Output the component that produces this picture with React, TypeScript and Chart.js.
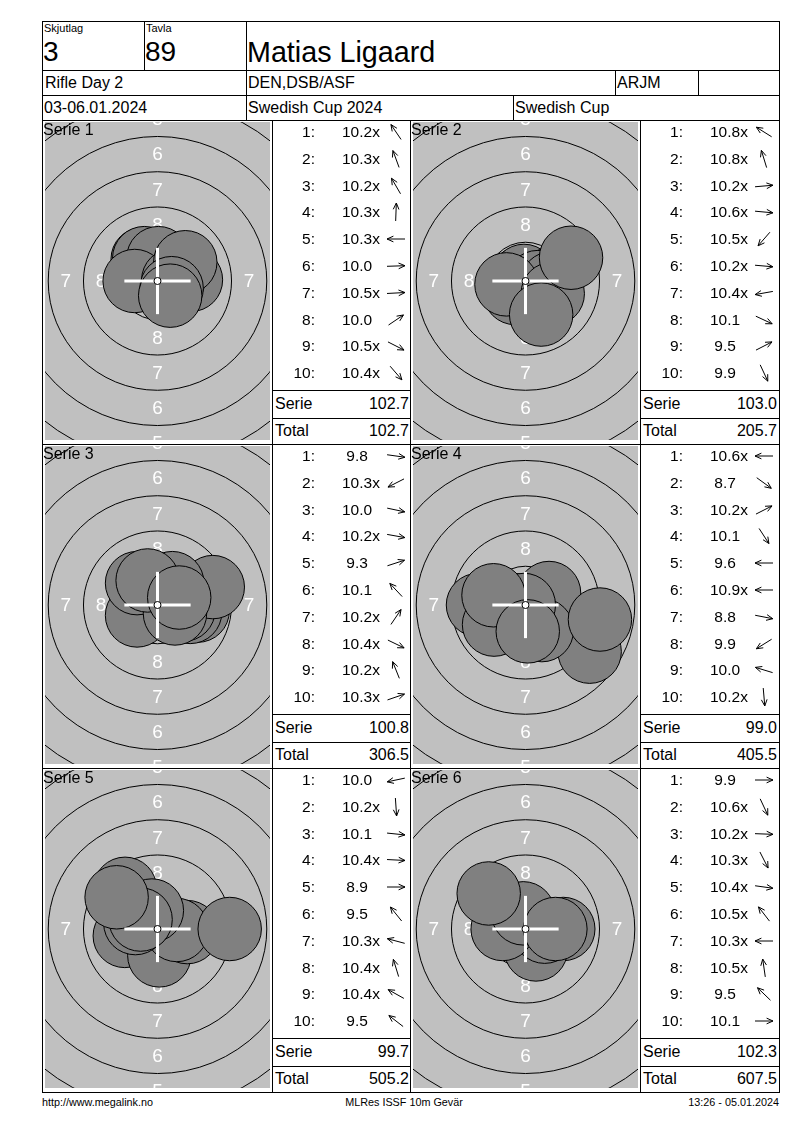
import React, { useEffect, useRef } from "react";
import { Chart, registerables } from "chart.js";

Chart.register(...registerables);

// ---------------- data ----------------
const SKJUTLAG_LABEL = "Skjutlag";
const TAVLA_LABEL = "Tavla";
const SKJUTLAG = "3";
const TAVLA = "89";
const SHOOTER = "Matias Ligaard";
const EVENT = "Rifle Day 2";
const CLUB = "DEN,DSB/ASF";
const CLASS_NAME = "ARJM";
const DATES = "03-06.01.2024";
const COMPETITION = "Swedish Cup 2024";
const ORGANIZER = "Swedish Cup";
const FOOTER_LEFT = "http://www.megalink.no";
const FOOTER_MID = "MLRes ISSF 10m Gevär";
const FOOTER_RIGHT = "13:26 - 05.01.2024";

const SERIE_NAMES = ["Serie 1", "Serie 2", "Serie 3", "Serie 4", "Serie 5", "Serie 6"];
const SERIE_SUMS = ["102.7", "103.0", "100.8", "99.0", "99.7", "102.3"];
const RUNNING_TOTALS = ["102.7", "205.7", "306.5", "405.5", "505.2", "607.5"];

// shot scores and impact positions (mm from target centre, y up)
const S1_SCORES = ["10.2x", "10.3x", "10.2x", "10.3x", "10.3x", "10.0", "10.5x", "10.0", "10.5x", "10.4x"];
const S1_X = [-1.05, -0.56, -0.94, 0.06, -1.62, 2.37, 1.12, 1.97, 1.0, 0.9];
const S1_Y = [1.55, 1.53, 1.62, 1.62, 0.0, 0.08, 0.06, 1.33, -0.51, -1.04];

const S2_SCORES = ["10.8x", "10.8x", "10.2x", "10.6x", "10.5x", "10.2x", "10.4x", "10.1", "9.5", "9.9"];
const S2_X = [-0.32, -0.11, 1.87, 0.87, -0.74, 1.87, -1.35, 1.93, 3.23, 1.11];
const S2_Y = [0.2, 0.36, 0.16, -0.08, -0.85, -0.16, -0.24, -0.9, 1.65, -2.38];

const S3_SCORES = ["9.8", "10.3x", "10.0", "10.2x", "9.3", "10.1", "10.2x", "10.4x", "10.2x", "10.3x"];
const S3_X = [2.85, -1.45, 2.32, 1.85, 3.92, -1.45, 1.05, 1.24, -0.7, 1.54];
const S3_Y = [-0.4, -0.74, -0.49, -0.33, 1.27, 1.55, 1.55, -0.6, 1.74, 0.53];

const S4_SCORES = ["10.6x", "8.7", "10.2x", "10.1", "9.6", "10.9x", "8.8", "9.9", "10.0", "10.2x"];
const S4_X = [-0.87, 4.55, 1.67, 1.16, -3.37, -0.12, 5.28, -2.23, -2.27, 0.16];
const S4_Y = [0.0, -3.31, 0.85, -1.78, 0.0, 0.0, -1.03, -1.39, 0.69, -1.87];

const S5_SCORES = ["10.0", "10.2x", "10.1", "10.4x", "8.9", "9.5", "10.3x", "10.4x", "10.4x", "9.5"];
const S5_X = [-2.32, 0.13, 2.11, 1.37, 5.12, -2.3, -1.57, -0.4, -1.2, -2.9];
const S5_Y = [-0.49, -1.87, -0.22, -0.07, 0.0, 2.85, 0.42, 1.31, 0.67, 2.25];

const S6_SCORES = ["9.9", "10.6x", "10.2x", "10.3x", "10.4x", "10.5x", "10.3x", "10.5x", "9.5", "10.1"];
const S6_X = [2.68, 0.37, 1.87, 0.74, 1.36, -0.69, -1.62, -0.16, -2.61, 2.12];
const S6_Y = [0.0, -0.79, -0.07, -1.45, -0.19, 0.89, 0.0, 1.11, 2.52, 0.0];

// ISSF 10m air rifle target geometry (mm)
const RING_RADII_MM = [22.75, 20.25, 17.75, 15.25, 12.75, 10.25, 7.75, 5.25, 2.75]; // rings 1..9
const RING_NUMBERS = ["1", "2", "3", "4", "5", "6", "7", "8"];
const TEN_DOT_MM = 0.25;
const PELLET_R_MM = 2.25;
const CROSS_MM = 2.35;

const SERIES = [
  { scores: S1_SCORES, xs: S1_X, ys: S1_Y },
  { scores: S2_SCORES, xs: S2_X, ys: S2_Y },
  { scores: S3_SCORES, xs: S3_X, ys: S3_Y },
  { scores: S4_SCORES, xs: S4_X, ys: S4_Y },
  { scores: S5_SCORES, xs: S5_X, ys: S5_Y },
  { scores: S6_SCORES, xs: S6_X, ys: S6_Y },
];

// ---------------- layout constants ----------------
const PX_PER_MM = 14.1;
const TW = 225;
const TH = 318;
const FONT = '"Liberation Sans", Arial, sans-serif';

function pxOf(chart: any, mm: number) {
  const s = chart.scales.x;
  return Math.abs(s.getPixelForValue(mm) - s.getPixelForValue(0));
}

const targetPlugin = {
  id: "targetFace",
  beforeDraw(chart: any) {
    const { ctx, chartArea } = chart;
    ctx.save();
    ctx.fillStyle = "#c0c0c0";
    ctx.fillRect(chartArea.left, chartArea.top, chartArea.right - chartArea.left, chartArea.bottom - chartArea.top);
    ctx.restore();
  },
  beforeDatasetsDraw(chart: any) {
    const { ctx, chartArea } = chart;
    const sx = chart.scales.x;
    const sy = chart.scales.y;
    ctx.save();
    ctx.beginPath();
    ctx.rect(chartArea.left, chartArea.top, chartArea.right - chartArea.left, chartArea.bottom - chartArea.top);
    ctx.clip();
    ctx.fillStyle = "#ffffff";
    ctx.font = "19px " + FONT;
    ctx.textAlign = "center";
    ctx.textBaseline = "middle";
    RING_NUMBERS.forEach((label, i) => {
      const r = (RING_RADII_MM[i] + RING_RADII_MM[i + 1]) / 2;
      const pts = [
        [0, r],
        [0, -r],
        [r, 0],
        [-r, 0],
      ];
      pts.forEach(([x, y]) => {
        ctx.fillText(label, sx.getPixelForValue(x), sy.getPixelForValue(y) + 1);
      });
    });
    ctx.restore();
  },
};

function Target({ left, top, xs, ys }: { left: number; top: number; xs: number[]; ys: number[] }) {
  const ref = useRef<HTMLCanvasElement>(null);
  useEffect(() => {
    const canvas = ref.current;
    if (!canvas) return;
    const xr = TW / 2 / PX_PER_MM;
    const yr = TH / 2 / PX_PER_MM;
    const chart = new Chart(canvas, {
      type: "scatter",
      data: {
        datasets: [
          {
            type: "scatter",
            label: "ten",
            data: [{ x: 0, y: 0 }],
            pointRadius: (c: any) => pxOf(c.chart, TEN_DOT_MM),
            pointBackgroundColor: "#ffffff",
            pointBorderColor: "#000000",
            pointBorderWidth: 1,
            order: 1,
          } as any,
          {
            type: "line",
            label: "crossH",
            data: [
              { x: -CROSS_MM, y: 0 },
              { x: CROSS_MM, y: 0 },
            ],
            borderColor: "#ffffff",
            borderWidth: 3,
            pointRadius: 0,
            fill: false,
            order: 2,
          } as any,
          {
            type: "line",
            label: "crossV",
            data: [
              { x: 0, y: -CROSS_MM },
              { x: 0, y: CROSS_MM },
            ],
            borderColor: "#ffffff",
            borderWidth: 3,
            pointRadius: 0,
            fill: false,
            order: 2,
          } as any,
          {
            type: "scatter",
            label: "shots",
            data: xs.map((x, i) => ({ x, y: ys[i] })),
            pointRadius: (c: any) => pxOf(c.chart, PELLET_R_MM),
            pointBackgroundColor: "#808080",
            pointBorderColor: "#000000",
            pointBorderWidth: 1,
            order: 3,
          } as any,
          {
            type: "scatter",
            label: "rings",
            data: RING_RADII_MM.map(() => ({ x: 0, y: 0 })),
            pointRadius: (c: any) => pxOf(c.chart, RING_RADII_MM[c.dataIndex]),
            pointBackgroundColor: "rgba(0,0,0,0)",
            pointBorderColor: "#000000",
            pointBorderWidth: 1,
            order: 4,
          } as any,
        ],
      },
      options: {
        animation: false,
        responsive: false,
        events: [],
        layout: { padding: 0 },
        plugins: { legend: { display: false }, tooltip: { enabled: false } },
        scales: {
          x: { type: "linear", min: -xr, max: xr, display: false },
          y: { type: "linear", min: -yr, max: yr, display: false },
        },
      },
      plugins: [targetPlugin],
    } as any);
    return () => chart.destroy();
  }, [xs, ys]);
  return (
    <canvas
      ref={ref}
      width={TW}
      height={TH}
      style={{ position: "absolute", left, top, width: TW, height: TH }}
    />
  );
}

function Arrow({ cx, cy, dx, dy }: { cx: number; cy: number; dx: number; dy: number }) {
  const a = Math.atan2(dy, dx);
  const ux = Math.cos(a);
  const uy = -Math.sin(a);
  const L = 9;
  const c = 12;
  const hx = c + ux * L;
  const hy = c + uy * L;
  const tx = c - ux * L;
  const ty = c - uy * L;
  const HL = 7;
  const phi = 0.42;
  const bx = -ux;
  const by = -uy;
  const r1x = bx * Math.cos(phi) - by * Math.sin(phi);
  const r1y = bx * Math.sin(phi) + by * Math.cos(phi);
  const r2x = bx * Math.cos(-phi) - by * Math.sin(-phi);
  const r2y = bx * Math.sin(-phi) + by * Math.cos(-phi);
  return (
    <svg
      width={24}
      height={24}
      style={{ position: "absolute", left: cx - 12, top: cy - 12, overflow: "visible" }}
    >
      <path
        d={`M${tx},${ty} L${hx},${hy} M${hx + r1x * HL},${hy + r1y * HL} L${hx},${hy} L${hx + r2x * HL},${hy + r2y * HL}`}
        stroke="#000"
        strokeWidth={1}
        fill="none"
      />
    </svg>
  );
}

function HLine({ x1, x2, y }: { x1: number; x2: number; y: number }) {
  return <div style={{ position: "absolute", left: x1, top: y, width: x2 - x1 + 1, height: 1, background: "#000" }} />;
}
function VLine({ x, y1, y2 }: { x: number; y1: number; y2: number }) {
  return <div style={{ position: "absolute", left: x, top: y1, width: 1, height: y2 - y1 + 1, background: "#000" }} />;
}

function Text({
  x,
  y,
  size,
  children,
  align = "left",
  w = 200,
  lh = 20,
  style = {},
}: {
  x: number;
  y: number;
  size: number;
  children: any;
  align?: "left" | "right" | "center";
  w?: number;
  lh?: number;
  style?: any;
}) {
  const left = align === "left" ? x : align === "right" ? x - w : x - w / 2;
  return (
    <div
      style={{
        position: "absolute",
        left,
        top: y - lh / 2,
        width: w,
        height: lh,
        lineHeight: lh + "px",
        fontSize: size,
        textAlign: align,
        whiteSpace: "pre",
        ...style,
      }}
    >
      {children}
    </div>
  );
}

function Panel({ idx }: { idx: number }) {
  const col = idx % 2;
  const row = Math.floor(idx / 2);
  const top = 120 + row * 324;
  const tLeft = col === 0 ? 45 : 413;
  const pLeft = col === 0 ? 42 : 410;
  const L = col === 0 ? 272 : 640;
  const R = col === 0 ? 410 : 779;
  const s = SERIES[idx];
  return (
    <>
      <Target left={tLeft} top={top + 2} xs={s.xs} ys={s.ys} />
      <Text x={pLeft + 1} y={top + 10} size={16} lh={18}>
        {SERIE_NAMES[idx]}
      </Text>
      {s.scores.map((sc, k) => {
        const cy = top + 12 + k * 26.8;
        const shown = parseFloat(sc) < 10 ? " " + sc : sc;
        return (
          <React.Fragment key={k}>
            <Text x={L + 43} y={cy} size={15.5} align="right" w={40}>
              {k + 1 + ":"}
            </Text>
            <Text x={L + 70} y={cy} size={15.5} w={50}>
              {shown}
            </Text>
            <Arrow cx={L + 124} cy={cy} dx={s.xs[k]} dy={s.ys[k]} />
          </React.Fragment>
        );
      })}
      <HLine x1={L} x2={R} y={top + 270} />
      <HLine x1={L} x2={R} y={top + 298} />
      <Text x={L + 3} y={top + 284} size={16} w={60}>
        Serie
      </Text>
      <Text x={L + 137} y={top + 284} size={16} align="right" w={70}>
        {SERIE_SUMS[idx]}
      </Text>
      <Text x={L + 3} y={top + 311} size={16} w={60}>
        Total
      </Text>
      <Text x={L + 137} y={top + 311} size={16} align="right" w={70}>
        {RUNNING_TOTALS[idx]}
      </Text>
    </>
  );
}

export default function App() {
  return (
    <div
      style={{
        position: "absolute",
        left: 0,
        top: 0,
        width: 800,
        height: 1130,
        background: "#fff",
        fontFamily: FONT,
        color: "#000",
        overflow: "hidden",
      }}
    >
      {/* frame */}
      <HLine x1={42} x2={779} y={21} />
      <HLine x1={42} x2={779} y={1092} />
      <VLine x={42} y1={21} y2={1092} />
      <VLine x={779} y1={21} y2={1092} />
      {/* header */}
      <HLine x1={42} x2={779} y={70} />
      <HLine x1={42} x2={779} y={95} />
      <HLine x1={42} x2={779} y={120} />
      <VLine x={144} y1={21} y2={70} />
      <VLine x={246} y1={21} y2={120} />
      <VLine x={615} y1={70} y2={95} />
      <VLine x={698} y1={70} y2={95} />
      <VLine x={513} y1={95} y2={120} />
      <Text x={44} y={28} size={11} lh={14}>
        {SKJUTLAG_LABEL}
      </Text>
      <Text x={146} y={28} size={11} lh={14}>
        {TAVLA_LABEL}
      </Text>
      <Text x={43} y={52} size={28} lh={32}>
        {SKJUTLAG}
      </Text>
      <Text x={145} y={52} size={28} lh={32}>
        {TAVLA}
      </Text>
      <Text x={247} y={52} size={28.7} lh={32} w={500}>
        {SHOOTER}
      </Text>
      <Text x={45} y={83} size={16}>
        {EVENT}
      </Text>
      <Text x={248} y={83} size={16}>
        {CLUB}
      </Text>
      <Text x={617} y={83} size={16}>
        {CLASS_NAME}
      </Text>
      <Text x={44} y={108} size={16}>
        {DATES}
      </Text>
      <Text x={248} y={108} size={16}>
        {COMPETITION}
      </Text>
      <Text x={515} y={108} size={16}>
        {ORGANIZER}
      </Text>
      {/* panels */}
      <HLine x1={42} x2={779} y={444} />
      <HLine x1={42} x2={779} y={768} />
      <VLine x={272} y1={120} y2={1092} />
      <VLine x={410} y1={120} y2={1092} />
      <VLine x={640} y1={120} y2={1092} />
      {SERIES.map((_, i) => (
        <Panel key={i} idx={i} />
      ))}
      {/* footer */}
      <Text x={42} y={1102} size={10.8} lh={14} w={200}>
        {FOOTER_LEFT}
      </Text>
      <Text x={404} y={1102} size={10.8} lh={14} w={200} align="center">
        {FOOTER_MID}
      </Text>
      <Text x={779} y={1102} size={10.8} lh={14} w={200} align="right">
        {FOOTER_RIGHT}
      </Text>
    </div>
  );
}
